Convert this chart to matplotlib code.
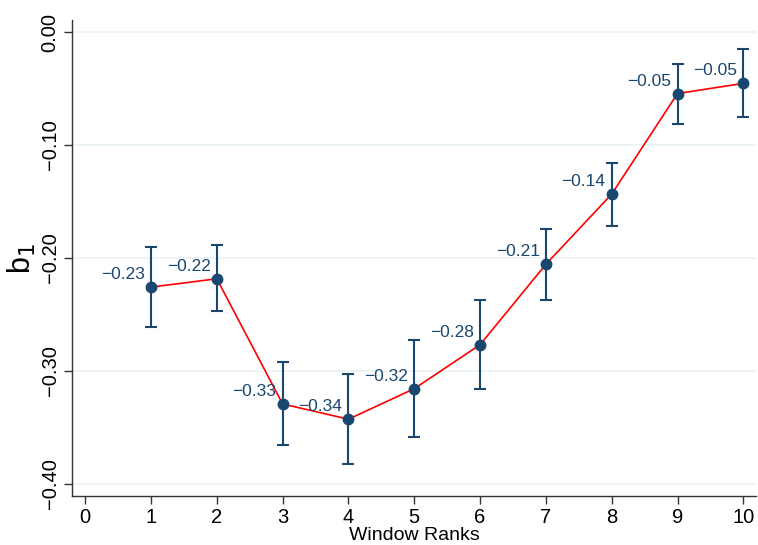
import matplotlib.pyplot as plt
import numpy as np

plt.rcParams['font.family'] = ['Liberation Sans', 'DejaVu Sans']

ranks = [1, 2, 3, 4, 5, 6, 7, 8, 9, 10]
b1 = [-0.226, -0.2186, -0.3295, -0.343, -0.316, -0.277, -0.2058, -0.1436, -0.0545, -0.0455]
ci_hi = [-0.1908, -0.1888, -0.292, -0.303, -0.273, -0.2375, -0.1746, -0.1156, -0.0283, -0.0153]
ci_lo = [-0.261, -0.2472, -0.366, -0.383, -0.359, -0.316, -0.2374, -0.172, -0.0814, -0.0752]

navy = '#1a476f'

fig = plt.figure(figsize=(7.58, 5.45), dpi=100)
ax = fig.add_axes([0.095, 0.09, 0.903, 0.873])

y = np.array(b1)
yerr = [y - np.array(ci_lo), np.array(ci_hi) - y]
ax.plot(ranks, b1, color='red', lw=1.2, zorder=2)
ax.errorbar(ranks, b1, yerr=yerr, fmt='o', color=navy, ms=7.5, elinewidth=1.5,
            capsize=4, capthick=1.5, zorder=3)

for xv, yv in zip(ranks, b1):
    ax.annotate(f'{yv:.2f}'.replace('-', '\u2212'), (xv, yv), xytext=(-4.5, 9),
                textcoords='offset points', ha='right', va='center',
                fontsize=12.5, color=navy, zorder=4)

ax.set_xlim(-0.2, 10.2)
ax.set_ylim(-0.411, 0.0105)
ax.set_xticks(range(0, 11))
ax.set_yticks([0.0, -0.1, -0.2, -0.3, -0.4])
ax.set_yticklabels([f'{v:.2f}'.replace('-', '\u2212') for v in [0.0, -0.1, -0.2, -0.3, -0.4]],
                   rotation=90, va='center')
ax.tick_params(axis='both', labelsize=14.5, direction='out', length=6, width=1, color='#333333')
ax.tick_params(axis='y', pad=3)
ax.tick_params(axis='x', pad=2.5)
ax.grid(axis='y', color='#eaf2f3', lw=1.2)
ax.set_axisbelow(True)
for s in ['top', 'right']:
    ax.spines[s].set_visible(False)
for s in ['left', 'bottom']:
    ax.spines[s].set_linewidth(1.0)
    ax.spines[s].set_color('#333333')

ax.set_xlabel('Window Ranks', fontsize=14, labelpad=0)
ax.set_ylabel(r'b$_1$', fontsize=22, labelpad=2)

fig.savefig('out.png', dpi=100)
